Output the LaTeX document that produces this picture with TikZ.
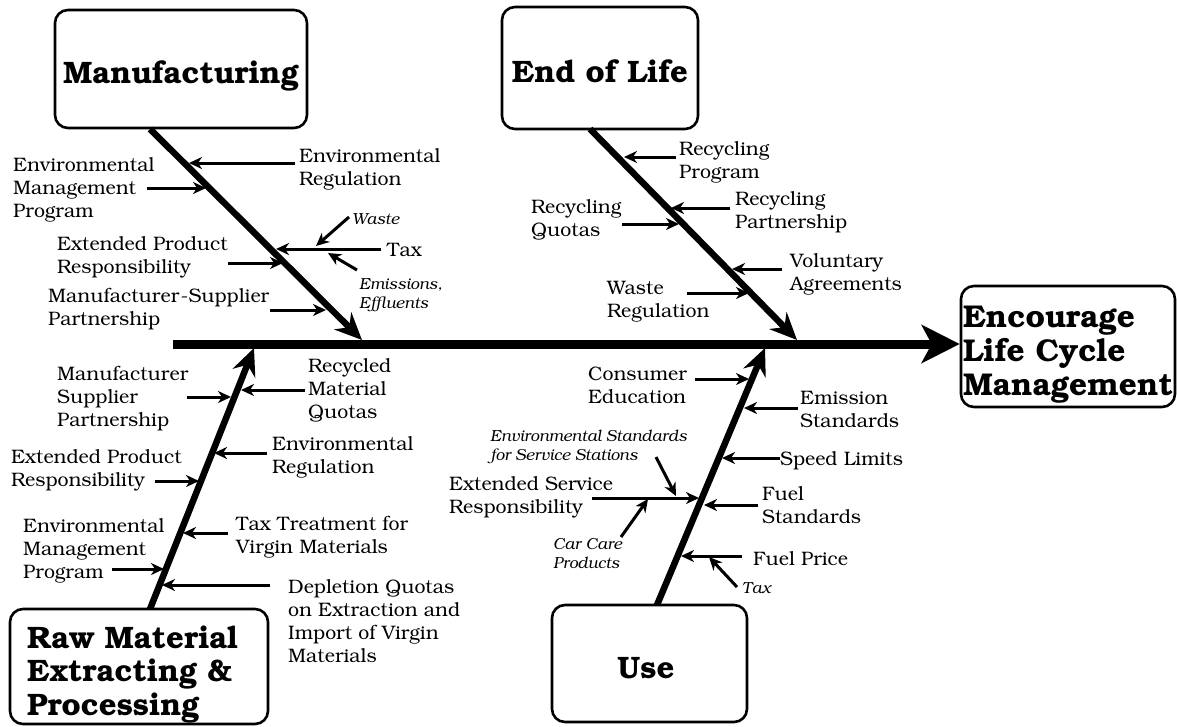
\documentclass[tikz,border=0pt]{standalone}
\usepackage[T1]{fontenc}
\usepackage{bookman}
\usetikzlibrary{arrows.meta}
\begin{document}
\begin{tikzpicture}[x=1pt,y=-1pt,
  lbl/.style={font=\fontsize{19.5}{23}\selectfont, inner sep=0pt, align=left, anchor=base west},
  ilbl/.style={font=\fontsize{16}{18.5}\selectfont\itshape, inner sep=0pt, align=left, anchor=base west},
  ttl/.style={font=\fontsize{31}{34}\selectfont\bfseries, inner sep=0pt, align=left},
  boxx/.style={draw, line width=2.6pt, rounded corners=13pt, inner sep=0pt},
  bone/.style={line width=6.5pt, -{Stealth[length=27pt,width=24pt,inset=9pt]}},
  br/.style={line width=3pt, -{Stealth[length=13pt,width=12pt,inset=4pt]}},
  spine/.style={line width=9pt, -{Stealth[length=38pt,width=38pt,inset=10pt]}}]
\useasboundingbox (0,0) rectangle (1177,726);

% boxes
\node[boxx, minimum width=252pt, minimum height=118pt] (man) at (181,69) {};
\node[boxx, minimum width=196pt, minimum height=122pt] (eol) at (600,68) {};
\node[boxx, minimum width=258pt, minimum height=115pt] (raw) at (139,666.5) {};
\node[boxx, minimum width=195pt, minimum height=117pt] (use) at (649.5,663.5) {};
\node[boxx, minimum width=214pt, minimum height=121pt] (res) at (1068,346.5) {};

% titles (anchor = baseline of last line)
\node[ttl, anchor=base] (tman) at (181,83) {Manufacturing};
\node[ttl, anchor=base] (teol) at (600,82) {End of Life};
\node[ttl, anchor=base west, font=\fontsize{31}{33.5}\selectfont\bfseries] (traw) at (27,715) {Raw Material\\Extracting \&\\Processing};
\node[ttl, anchor=base] (tuse) at (646,678) {Use};
\node[ttl, anchor=base west, font=\fontsize{31.5}{34}\selectfont\bfseries] (tres) at (963,395) {Encourage\\Life Cycle\\Management};

% spine
\coordinate (sp0) at (173,344);
\draw[spine] (sp0) -- (res.west |- sp0);

% bones
\coordinate (mb) at (150,129);  \coordinate (mt) at (362,340);
\coordinate (eb) at (590,129);  \coordinate (et) at (797,340);
\coordinate (rb) at (150,609);  \coordinate (rt) at (254,348);
\coordinate (ub) at (657,605);  \coordinate (ut) at (765,348);
\draw[bone] (mb) -- (mt);
\draw[bone] (eb) -- (et);
\draw[bone] (rb) -- (rt);
\draw[bone] (ub) -- (ut);

% ---------- Manufacturing ----------
\node[lbl] (m1) at (299,185) {Environmental\\Regulation};
\node[lbl] (m2) at (13,217) {Environmental\\Management\\Program};
\node[ilbl] (m3a) at (352,224) {Waste};
\node[lbl] (m3) at (387,256) {Tax};
\node[lbl] (m4) at (57,273) {Extended Product\\Responsibility};
\node[ilbl] (m3b) at (359,308) {Emissions,\\Effluents};
\node[lbl] (m5) at (48,325) {Manufacturer-Supplier\\Partnership};

\coordinate (m1s) at (295,163); \coordinate (m1e) at (189,163);
\coordinate (m2s) at (147,188); \coordinate (m2e) at (206,188);
\coordinate (m3s) at (381,249); \coordinate (m3e) at (276,249);
\coordinate (m3as) at (349,217); \coordinate (m3ae) at (316,246);
\coordinate (m3bs) at (357,270); \coordinate (m3be) at (328,253);
\coordinate (m4s) at (228,263); \coordinate (m4e) at (283,263);
\coordinate (m5s) at (270,310); \coordinate (m5e) at (326,310);
\draw[br] (m1s) -- (m1e);
\draw[br] (m2s) -- (m2e);
\draw[br] (m3s) -- (m3e);
\draw[br] (m3as) -- (m3ae);
\draw[br] (m3bs) -- (m3be);
\draw[br] (m4s) -- (m4e);
\draw[br] (m5s) -- (m5e);

% ---------- End of Life ----------
\node[lbl] (e1) at (679,178) {Recycling\\Program};
\node[lbl] (e2) at (735,228) {Recycling\\Partnership};
\node[lbl] (e3) at (531,236) {Recycling\\Quotas};
\node[lbl] (e4) at (790,290) {Voluntary\\Agreements};
\node[lbl] (e5) at (607,317) {Waste\\Regulation};

\coordinate (e1s) at (676,157); \coordinate (e1e) at (624,157);
\coordinate (e2s) at (730,208); \coordinate (e2e) at (671,208);
\coordinate (e3s) at (622,224); \coordinate (e3e) at (679,224);
\coordinate (e4s) at (782,269); \coordinate (e4e) at (732,269);
\coordinate (e5s) at (687,293); \coordinate (e5e) at (749,293);
\draw[br] (e1s) -- (e1e);
\draw[br] (e2s) -- (e2e);
\draw[br] (e3s) -- (e3e);
\draw[br] (e4s) -- (e4e);
\draw[br] (e5s) -- (e5e);

% ---------- Raw material ----------
\node[lbl] (r1) at (308,418) {Recycled\\Material\\Quotas};
\node[lbl] (r2) at (57,426) {Manufacturer\\Supplier\\Partnership};
\node[lbl] (r3) at (272,473) {Environmental\\Regulation};
\node[lbl] (r4) at (11,486) {Extended Product\\Responsibility};
\node[lbl] (r5) at (236,553) {Tax Treatment for\\Virgin Materials};
\node[lbl] (r6) at (23,578) {Environmental\\Management\\Program};
\node[lbl] (r7) at (288,662) {Depletion Quotas\\on Extraction and\\Import of Virgin\\Materials};

\coordinate (r1s) at (305,390); \coordinate (r1e) at (241,390);
\coordinate (r2s) at (187,397); \coordinate (r2e) at (231,397);
\coordinate (r3s) at (267,453); \coordinate (r3e) at (214,453);
\coordinate (r4s) at (155,481); \coordinate (r4e) at (199,481);
\coordinate (r5s) at (228,533); \coordinate (r5e) at (183,533);
\coordinate (r6s) at (112,569); \coordinate (r6e) at (164,569);
\coordinate (r7s) at (270,585); \coordinate (r7e) at (162,585);
\draw[br] (r1s) -- (r1e);
\draw[br] (r2s) -- (r2e);
\draw[br] (r3s) -- (r3e);
\draw[br] (r4s) -- (r4e);
\draw[br] (r5s) -- (r5e);
\draw[br] (r6s) -- (r6e);
\draw[br] (r7s) -- (r7e);

% ---------- Use ----------
\node[lbl] (u1) at (588,403) {Consumer\\Education};
\node[lbl] (u2) at (800,427) {Emission\\Standards};
\node[ilbl] (u4a) at (490,460) {Environmental Standards\\for Service Stations};
\node[lbl] (u3) at (780,465) {Speed Limits};
\node[lbl] (u4) at (449,513) {Extended Service\\Responsibility};
\node[ilbl] (u4b) at (553,568) {Car Care\\Products};
\node[lbl] (u5) at (762,523) {Fuel\\Standards};
\node[lbl] (u6) at (753,565) {Fuel Price};
\node[ilbl] (u6a) at (742,593) {Tax};

\coordinate (u1s) at (695,379); \coordinate (u1e) at (749,379);
\coordinate (u2s) at (798,408); \coordinate (u2e) at (744,408);
\coordinate (u3s) at (780,458); \coordinate (u3e) at (722,458);
\coordinate (u4s) at (592,498); \coordinate (u4e) at (699,498);
\coordinate (u4as) at (656,457); \coordinate (u4ae) at (676,496);
\coordinate (u4bs) at (621,537); \coordinate (u4be) at (648,499);
\coordinate (u5s) at (758,505); \coordinate (u5e) at (704,505);
\coordinate (u6s) at (742,556); \coordinate (u6e) at (681,556);
\coordinate (u6as) at (737,587); \coordinate (u6ae) at (709,557);
\draw[br] (u1s) -- (u1e);
\draw[br] (u2s) -- (u2e);
\draw[br] (u3s) -- (u3e);
\draw[br] (u4s) -- (u4e);
\draw[br] (u4as) -- (u4ae);
\draw[br] (u4bs) -- (u4be);
\draw[br] (u5s) -- (u5e);
\draw[br] (u6s) -- (u6e);
\draw[br] (u6as) -- (u6ae);
\end{tikzpicture}
\end{document}
